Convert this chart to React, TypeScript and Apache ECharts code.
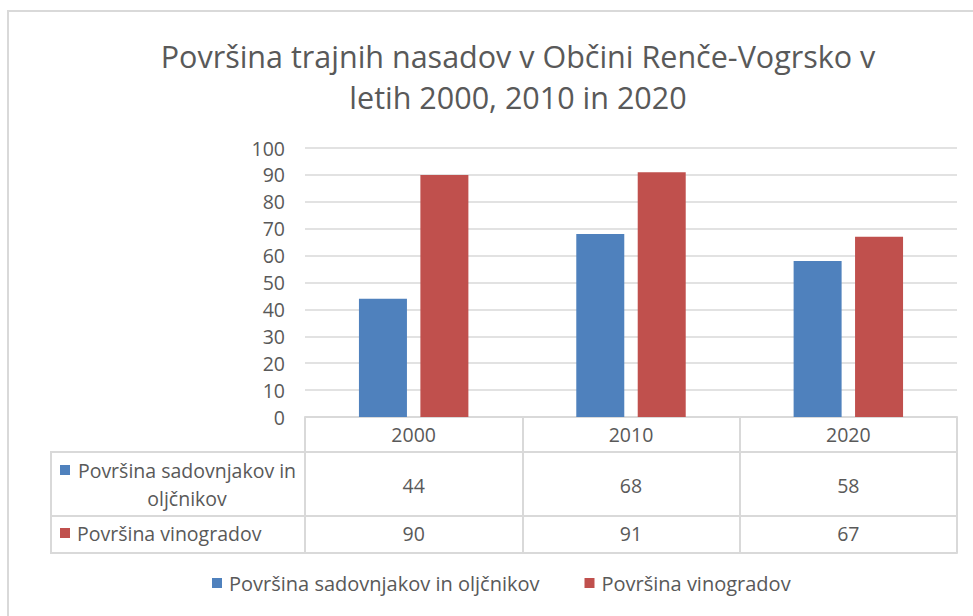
import React, { useEffect, useRef } from "react";
import * as echarts from "echarts";

const years = ["2000", "2010", "2020"];
const orchards = [44, 68, 58];
const vineyards = [90, 91, 67];
const seriesNames = ["Površina sadovnjakov in oljčnikov", "Površina vinogradov"];
const rowHeaders = ["Površina sadovnjakov in\noljčnikov", "Površina vinogradov"];
const titleText = "Površina trajnih nasadov v Občini Renče-Vogrsko v\nletih 2000, 2010 in 2020";

const BLUE = "#4F81BD";
const RED = "#C0504D";
const TXT = "#595959";
const LINE = "#D9D9D9";
const FONT = "'Open Sans', 'Noto Sans', sans-serif";
const FS = 19.5;

export default function App() {
  const ref = useRef<HTMLDivElement>(null);
  useEffect(() => {
    if (!ref.current) return;
    const chart = echarts.init(ref.current, undefined, { renderer: "svg" });
    const tableLine = { show: true, lineStyle: { color: LINE, width: 2 } };
    const lbl = (margin: number) => ({
      show: true,
      interval: 0,
      margin,
      color: TXT,
      fontSize: FS,
      fontFamily: FONT,
    });
    chart.setOption({
      animation: false,
      backgroundColor: "#fff",
      textStyle: { fontFamily: FONT },
      title: {
        text: titleText,
        left: "center",
        top: 35,
        padding: 0,
        textStyle: {
          fontSize: 30.5,
          lineHeight: 41,
          fontWeight: "normal",
          color: TXT,
          fontFamily: FONT,
        },
      },
      legend: {
        data: seriesNames,
        left: 212,
        top: 573,
        padding: 0,
        icon: "rect",
        itemWidth: 10,
        itemHeight: 10,
        itemGap: 45,
        textStyle: { fontSize: 20, color: TXT, fontFamily: FONT, padding: [0, 0, 0, 2] },
      },
      grid: { left: 305, right: 1036 - 957, top: 148, bottom: 616 - 417 },
      xAxis: [
        {
          type: "category",
          data: years,
          position: "bottom",
          axisLine: tableLine,
          axisTick: { show: true, length: 136, alignWithLabel: false, interval: 0, lineStyle: { color: LINE, width: 2 } },
          axisLabel: lbl(7),
          splitLine: { show: false },
        },
        {
          type: "category",
          data: orchards.map(String),
          position: "bottom",
          offset: 35,
          axisLine: tableLine,
          axisTick: { show: false },
          axisLabel: lbl(23),
        },
        {
          type: "category",
          data: vineyards.map(String),
          position: "bottom",
          offset: 99,
          axisLine: tableLine,
          axisTick: { show: false },
          axisLabel: lbl(7),
        },
        {
          type: "category",
          data: years,
          position: "bottom",
          offset: 136,
          axisLine: tableLine,
          axisTick: { show: false },
          axisLabel: { show: false },
        },
      ],
      yAxis: {
        type: "value",
        min: 0,
        max: 100,
        interval: 10,
        axisLine: { show: false },
        axisTick: { show: false },
        axisLabel: { color: TXT, fontSize: FS, fontFamily: FONT, margin: 20 },
        splitLine: { lineStyle: { color: LINE, width: 1.5 } },
      },
      series: [
        {
          name: seriesNames[0],
          type: "bar",
          data: orchards,
          barWidth: 48,
          barGap: "28%",
          itemStyle: { color: BLUE },
        },
        {
          name: seriesNames[1],
          type: "bar",
          data: vineyards,
          barWidth: 48,
          itemStyle: { color: RED },
        },
      ],
      graphic: [
        {
          type: "rect",
          shape: { x: 8, y: 11, width: 1200, height: 800 },
          style: { fill: "none", stroke: LINE, lineWidth: 2 },
          silent: true,
        },
        { type: "line", shape: { x1: 51, y1: 452, x2: 305, y2: 452 }, style: { stroke: LINE, lineWidth: 2 } },
        { type: "line", shape: { x1: 51, y1: 516, x2: 305, y2: 516 }, style: { stroke: LINE, lineWidth: 2 } },
        { type: "line", shape: { x1: 51, y1: 553, x2: 305, y2: 553 }, style: { stroke: LINE, lineWidth: 2 } },
        { type: "line", shape: { x1: 51, y1: 451, x2: 51, y2: 554 }, style: { stroke: LINE, lineWidth: 2 } },
        { type: "rect", shape: { x: 60, y: 465, width: 10, height: 10 }, style: { fill: BLUE } },
        {
          type: "text",
          x: 187,
          y: 484,
          style: {
            text: rowHeaders[0],
            fill: TXT,
            fontSize: FS,
            fontFamily: FONT,
            align: "center",
            verticalAlign: "middle",
            lineHeight: 28,
          },
        },
        { type: "rect", shape: { x: 60, y: 528, width: 10, height: 10 }, style: { fill: RED } },
        {
          type: "text",
          x: 77,
          y: 533,
          style: {
            text: rowHeaders[1],
            fill: TXT,
            fontSize: FS,
            fontFamily: FONT,
            align: "left",
            verticalAlign: "middle",
          },
        },
      ],
    });
    return () => chart.dispose();
  }, []);
  return (
    <div style={{ position: "absolute", left: 0, top: 0, width: 973, height: 616, overflow: "hidden", background: "#fff" }}>
      <div ref={ref} style={{ width: 1036, height: 616 }} />
    </div>
  );
}
